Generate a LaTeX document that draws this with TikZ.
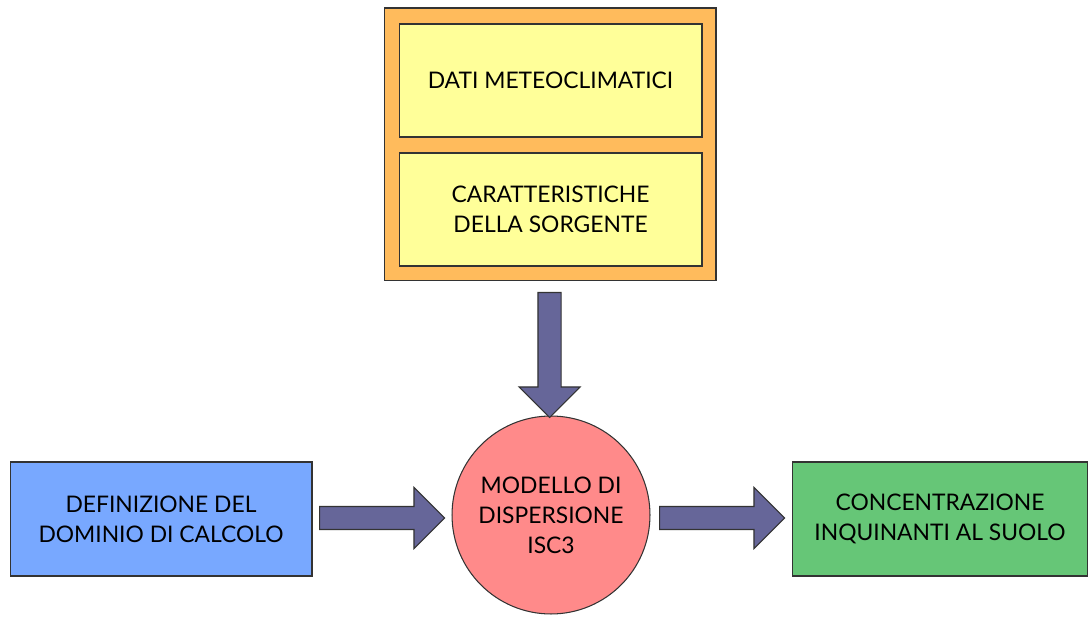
\documentclass[tikz,border=0pt]{standalone}
\usepackage{fontspec}
\setmainfont{Lato}
\usetikzlibrary{shapes.arrows}
\definecolor{boxorange}{HTML}{FFBB5C}
\definecolor{boxyellow}{HTML}{FFFF99}
\definecolor{boxblue}{HTML}{78A8FF}
\definecolor{boxred}{HTML}{FF8A8A}
\definecolor{boxgreen}{HTML}{66C677}
\definecolor{arrowfill}{HTML}{666699}
\definecolor{edge}{HTML}{333333}
\begin{document}
\begin{tikzpicture}[x=0.02cm,y=-0.02cm,
  box/.style={draw=edge,line width=0.6pt,align=center,inner sep=0pt,
    font=\fontsize{13}{17}\selectfont},
  fatarrow/.style={single arrow,draw=edge,fill=arrowfill,line width=0.6pt,
    minimum height=2.5cm,minimum width=1.2cm,inner sep=0.22cm,
    single arrow head extend=0.38cm,anchor=tail}]
\useasboundingbox (0,0) rectangle (1088,617);
% input data
\node[box,fill=boxorange,minimum width=6.64cm,minimum height=5.46cm] (inp) at (550,144.5) {};
\node[box,fill=boxyellow,minimum width=6.06cm,minimum height=2.26cm] (meteo) at (550.5,80.5) {DATI METEOCLIMATICI};
\node[box,fill=boxyellow,minimum width=6.06cm,minimum height=2.26cm] (src) at (550.5,209.5) {CARATTERISTICHE\\DELLA SORGENTE};
% model and domain
\node[box,fill=boxblue,minimum width=6.04cm,minimum height=2.28cm] (dom) at (161,519) {DEFINIZIONE DEL\\DOMINIO DI CALCOLO};
\node[box,circle,fill=boxred,minimum size=3.96cm] (mod) at (551,515) {MODELLO DI\\DISPERSIONE\\ISC3};
\node[box,fill=boxgreen,minimum width=5.92cm,minimum height=2.28cm] (conc) at (940,519) {CONCENTRAZIONE\\INQUINANTI AL SUOLO};
% arrows
\node[fatarrow,rotate=-90] (a1) at (549.5,292) {};
\node[fatarrow] (a2) at (319,518) {};
\node[fatarrow] (a3) at (659,518) {};
\end{tikzpicture}
\end{document}
